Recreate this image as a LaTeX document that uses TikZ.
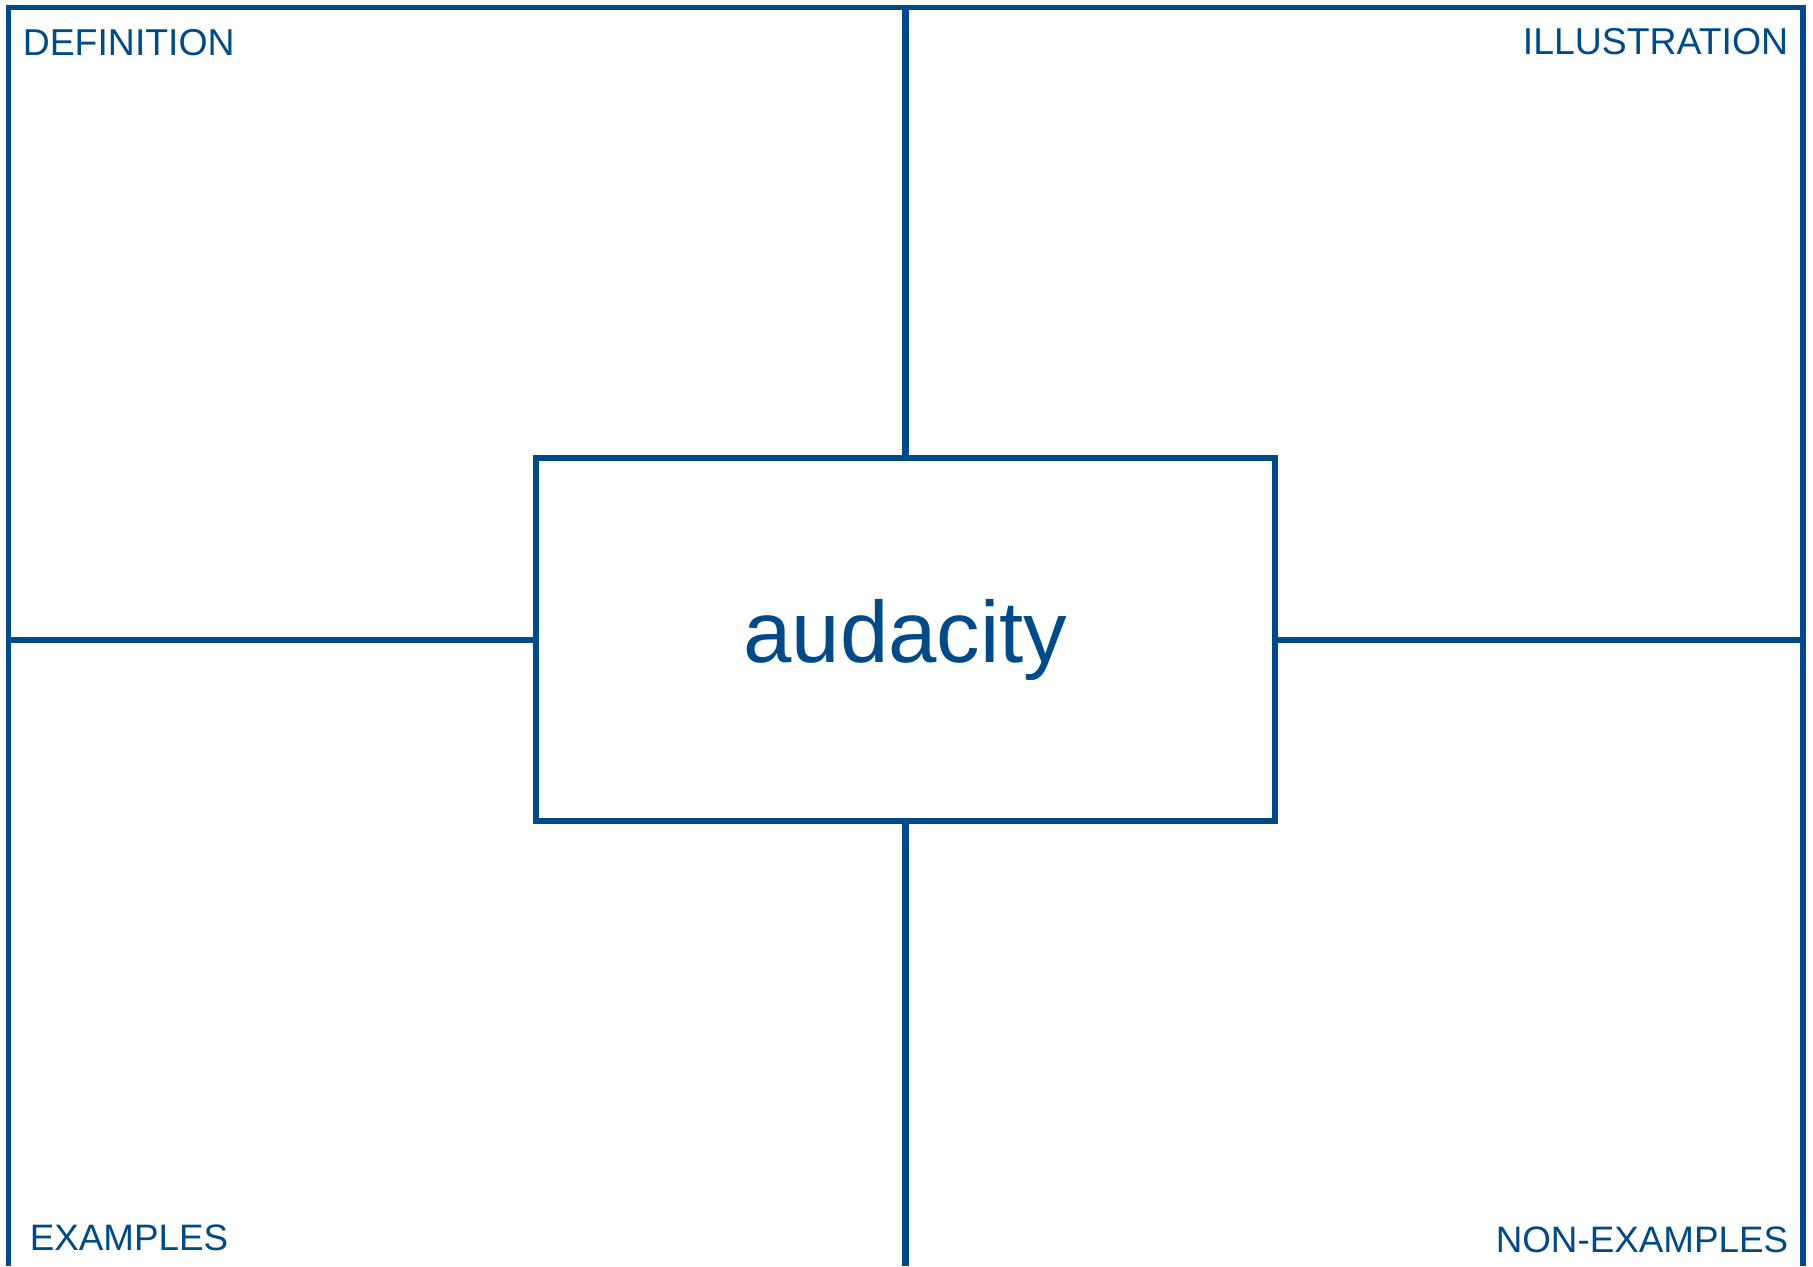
\documentclass[tikz,border=0pt]{standalone}
\usepackage{fontspec}
\setmainfont{Liberation Sans}
\definecolor{frayerblue}{RGB}{0,74,135}
\usetikzlibrary{positioning}

\begin{document}
\begin{tikzpicture}[x=0.25pt,y=-0.25pt,
  frame/.style={frayerblue,line width=1.3pt},
  divider/.style={frayerblue,line width=1.5pt},
  corner/.style={font=\fontsize{9.35pt}{11pt}\selectfont,text=frayerblue,inner sep=0pt},
  lowcorner/.style={corner,font=\fontsize{9.2pt}{11pt}\selectfont}]
  \useasboundingbox (0,0) rectangle (1813,1266);
  % Outer frame (open at the bottom)
  \coordinate (bl) at (8.5,1266);
  \coordinate (tl) at (8.5,7.5);
  \coordinate (tr) at (1803,7.5);
  \coordinate (br) at (1803,1266);
  \coordinate (top) at (905.5,7.5);
  \coordinate (bottom) at (905.5,1266);
  \coordinate (left) at (8.5,639.5);
  \coordinate (right) at (1803,639.5);
  \draw[frame] (bl) -- (tl) -- (tr) -- (br);
  % Word in the middle
  \node[draw=frayerblue,line width=1.4pt,minimum width=739*0.25pt,minimum height=363*0.25pt,
    font=\fontsize{21.75pt}{26pt}\selectfont,text=frayerblue] (word) at (905.5,639.5) {audacity};
  % Dividers
  \draw[divider,line width=1.9pt] (top) -- (word.north);
  \draw[divider,line width=1.9pt] (word.south) -- (bottom);
  \draw[divider] (left) -- (word.west);
  \draw[divider] (word.east) -- (right);
  % Corner labels
  \node[corner,anchor=base west] (definition) at (22,55) {DEFINITION};
  \node[corner,anchor=base east] (illustration) at (1789,54) {ILLUSTRATION};
  \node[lowcorner,anchor=base west] (examples) at (29,1250) {EXAMPLES};
  \node[lowcorner,anchor=base east] (nonexamples) at (1789,1252) {NON-EXAMPLES};
\end{tikzpicture}
\end{document}
